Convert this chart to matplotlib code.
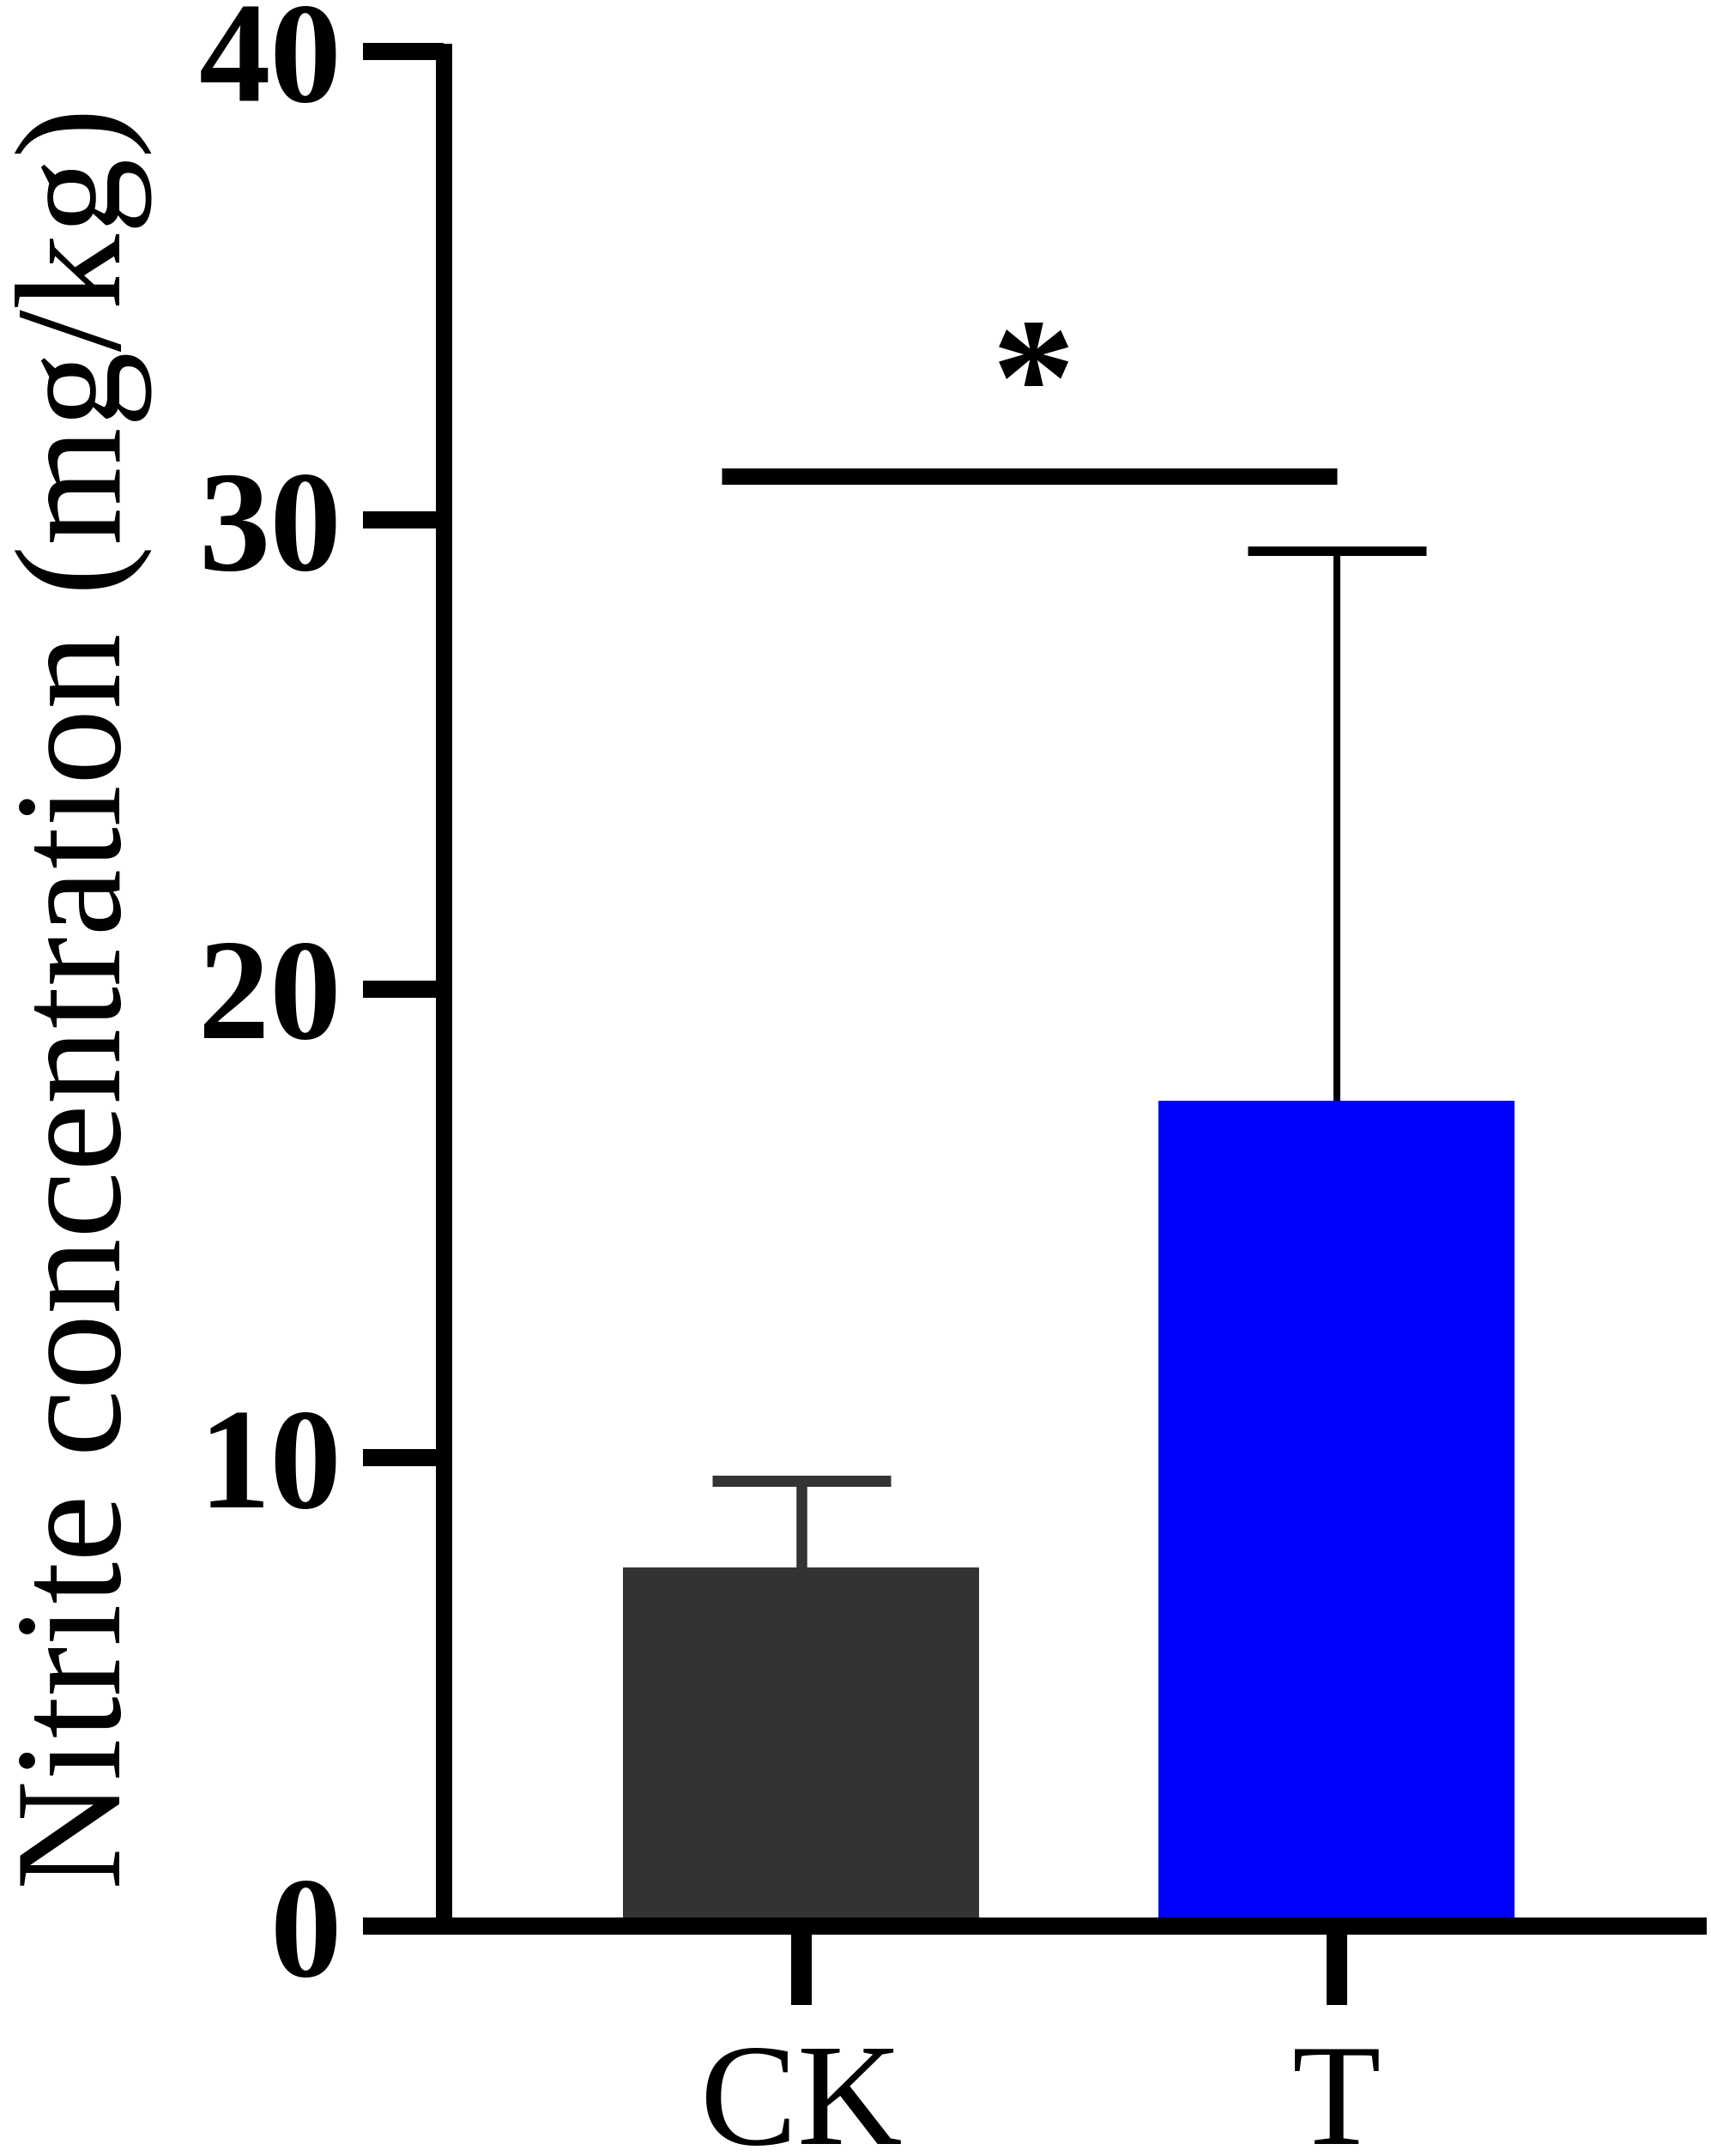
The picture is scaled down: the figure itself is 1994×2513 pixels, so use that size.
import numpy as np
import matplotlib
matplotlib.use("Agg")
import matplotlib.pyplot as plt

plt.rcParams['font.family'] = ['Liberation Serif', 'DejaVu Serif']

# data
groups = ['CK', 'T']
means = [7.65, 17.61]
errors = [1.85, 11.74]
bar_colors = ['#333333', '#0000ff']
err_colors = ['#333333', '#000000']
yticks = [0, 10, 20, 30, 40]

# significance bracket (x from, x to, height) and its label
sig_x = [-0.149, 1.0]
sig_y = 30.94
sig_star_x = 0.434
sig_star_y = 32.7
sig_label = '*'

W, H = 1994, 2513
dpi = 100
px = 72.0 / dpi  # points per pixel

fig = plt.figure(figsize=(W / dpi, H / dpi), dpi=dpi)
ax = fig.add_axes([517 / W, (H - 2245) / H, (1989 - 517) / W, (2245 - 60) / H])

x = np.arange(len(groups))
ax.bar(x, means, width=0.665, color=bar_colors, edgecolor='none', zorder=2)

err_lw = [12.5 * px, 8 * px]
cap_lw = [13 * px, 11 * px]
for i in range(len(groups)):
    _, caps, _ = ax.errorbar(x[i], means[i], yerr=[[0], [errors[i]]], fmt='none',
                             ecolor=err_colors[i], elinewidth=err_lw[i],
                             capsize=104 * px, capthick=cap_lw[i], zorder=3)
    # only the upper cap is shown
    caps[0].remove()

ax.set_xlim(-0.668, 1.691)
ax.set_ylim(0, 40)

# significance line and star
ax.plot(sig_x, [sig_y, sig_y], color='black', lw=19 * px,
        solid_capstyle='butt', zorder=4)
ax.text(sig_star_x, sig_star_y, sig_label, ha='center', va='center',
        fontsize=140, fontweight='bold')

# spines
for s in ['top', 'right', 'bottom']:
    ax.spines[s].set_visible(False)
ax.spines['left'].set_linewidth(19 * px)

# x axis line reaching past the y axis like the original
ax.plot([-0.819, 1.691], [0, 0], color='black', lw=20 * px,
        solid_capstyle='butt', clip_on=False, zorder=5)

ax.set_yticks(yticks)
ax.set_yticklabels([str(v) for v in yticks], fontsize=120, fontweight='bold')
ax.tick_params(axis='y', length=94 * px, width=20 * px, pad=18)

ax.set_xticks(x)
ax.set_xticklabels(groups, fontsize=122)
ax.tick_params(axis='x', length=92 * px, width=24 * px, pad=32)

fig.text(177 / W, 1 - 1164 / H, 'Nitrite concentration (mg/kg)',
         rotation=90, ha='right', va='center', fontsize=127)

fig.savefig('out.png', dpi=dpi, facecolor='white')
